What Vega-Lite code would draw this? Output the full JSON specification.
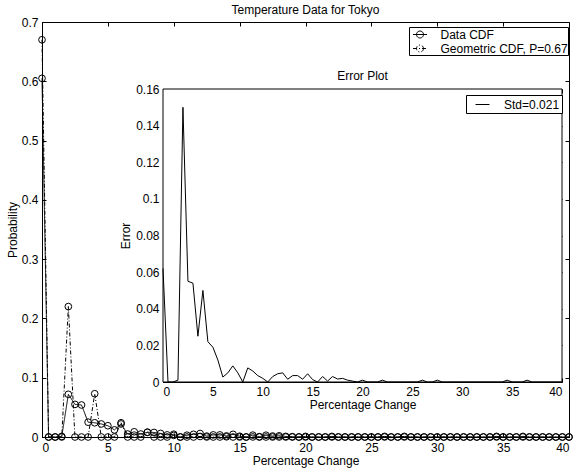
{
  "$schema": "https://vega.github.io/schema/vega-lite/v6.json",
  "width": 527,
  "height": 415,
  "autosize": "none",
  "padding": {"left": 42, "top": 22, "right": 5, "bottom": 32},
  "background": "white",
  "title": {"text": "Temperature Data for Tokyo", "fontSize": 12, "fontWeight": "normal", "font": "Liberation Sans", "color": "black", "offset": -1},
  "datasets": {
    "tokyo": [
      {"x": 0, "data": 0.605, "geom": 0.67, "err": 0.062},
      {"x": 0.5, "data": 0, "geom": 0, "err": 0},
      {"x": 1, "data": 0, "geom": 0, "err": 0},
      {"x": 1.5, "data": 0.001, "geom": 0, "err": 0.001},
      {"x": 2, "data": 0.072, "geom": 0.22, "err": 0.15},
      {"x": 2.5, "data": 0.055, "geom": 0, "err": 0.055},
      {"x": 3, "data": 0.054, "geom": 0, "err": 0.054},
      {"x": 3.5, "data": 0.025, "geom": 0, "err": 0.025},
      {"x": 4, "data": 0.024, "geom": 0.073, "err": 0.05},
      {"x": 4.5, "data": 0.022, "geom": 0, "err": 0.022},
      {"x": 5, "data": 0.019, "geom": 0, "err": 0.019},
      {"x": 5.5, "data": 0.012, "geom": 0, "err": 0.012},
      {"x": 6, "data": 0.022, "geom": 0.024, "err": 0.0027},
      {"x": 6.5, "data": 0.005, "geom": 0, "err": 0.005},
      {"x": 7, "data": 0.0088, "geom": 0, "err": 0.0088},
      {"x": 7.5, "data": 0.005, "geom": 0, "err": 0.005},
      {"x": 8, "data": 0.008, "geom": 0.008, "err": 0},
      {"x": 8.5, "data": 0.0077, "geom": 0, "err": 0.0077},
      {"x": 9, "data": 0.006, "geom": 0, "err": 0.006},
      {"x": 9.5, "data": 0.0035, "geom": 0, "err": 0.0035},
      {"x": 10, "data": 0.0047, "geom": 0.0027, "err": 0.002},
      {"x": 10.5, "data": 0, "geom": 0, "err": 0},
      {"x": 11, "data": 0.003, "geom": 0, "err": 0.003},
      {"x": 11.5, "data": 0.0045, "geom": 0, "err": 0.0045},
      {"x": 12, "data": 0.0059, "geom": 0.0009, "err": 0.005},
      {"x": 12.5, "data": 0.0015, "geom": 0, "err": 0.0015},
      {"x": 13, "data": 0.0035, "geom": 0, "err": 0.0035},
      {"x": 13.5, "data": 0.0035, "geom": 0, "err": 0.0035},
      {"x": 14, "data": 0.0018, "geom": 0.0003, "err": 0.0015},
      {"x": 14.5, "data": 0.0045, "geom": 0, "err": 0.0045},
      {"x": 15, "data": 0.0013, "geom": 0, "err": 0.0013},
      {"x": 15.5, "data": 0, "geom": 0, "err": 0},
      {"x": 16, "data": 0.0031, "geom": 0.0001, "err": 0.003},
      {"x": 16.5, "data": 0.0005, "geom": 0, "err": 0.0005},
      {"x": 17, "data": 0.003, "geom": 0, "err": 0.003},
      {"x": 17.5, "data": 0.0016, "geom": 0, "err": 0.0016},
      {"x": 18, "data": 0.002, "geom": 0, "err": 0.002},
      {"x": 18.5, "data": 0.001, "geom": 0, "err": 0.001},
      {"x": 19, "data": 0.0005, "geom": 0, "err": 0.0005},
      {"x": 19.5, "data": 0, "geom": 0, "err": 0},
      {"x": 20, "data": 0.001, "geom": 0, "err": 0.001},
      {"x": 20.5, "data": 0, "geom": 0, "err": 0},
      {"x": 21, "data": 0, "geom": 0, "err": 0},
      {"x": 21.5, "data": 0, "geom": 0, "err": 0},
      {"x": 22, "data": 0.001, "geom": 0, "err": 0.001},
      {"x": 22.5, "data": 0, "geom": 0, "err": 0},
      {"x": 23, "data": 0, "geom": 0, "err": 0},
      {"x": 23.5, "data": 0, "geom": 0, "err": 0},
      {"x": 24, "data": 0, "geom": 0, "err": 0},
      {"x": 24.5, "data": 0, "geom": 0, "err": 0},
      {"x": 25, "data": 0, "geom": 0, "err": 0},
      {"x": 25.5, "data": 0, "geom": 0, "err": 0},
      {"x": 26, "data": 0.001, "geom": 0, "err": 0.001},
      {"x": 26.5, "data": 0, "geom": 0, "err": 0},
      {"x": 27, "data": 0, "geom": 0, "err": 0},
      {"x": 27.5, "data": 0.001, "geom": 0, "err": 0.001},
      {"x": 28, "data": 0, "geom": 0, "err": 0},
      {"x": 28.5, "data": 0, "geom": 0, "err": 0},
      {"x": 29, "data": 0, "geom": 0, "err": 0},
      {"x": 29.5, "data": 0, "geom": 0, "err": 0},
      {"x": 30, "data": 0, "geom": 0, "err": 0},
      {"x": 30.5, "data": 0, "geom": 0, "err": 0},
      {"x": 31, "data": 0, "geom": 0, "err": 0},
      {"x": 31.5, "data": 0, "geom": 0, "err": 0},
      {"x": 32, "data": 0, "geom": 0, "err": 0},
      {"x": 32.5, "data": 0, "geom": 0, "err": 0},
      {"x": 33, "data": 0, "geom": 0, "err": 0},
      {"x": 33.5, "data": 0, "geom": 0, "err": 0},
      {"x": 34, "data": 0, "geom": 0, "err": 0},
      {"x": 34.5, "data": 0.001, "geom": 0, "err": 0.001},
      {"x": 35, "data": 0, "geom": 0, "err": 0},
      {"x": 35.5, "data": 0, "geom": 0, "err": 0},
      {"x": 36, "data": 0, "geom": 0, "err": 0},
      {"x": 36.5, "data": 0.001, "geom": 0, "err": 0.001},
      {"x": 37, "data": 0, "geom": 0, "err": 0},
      {"x": 37.5, "data": 0, "geom": 0, "err": 0},
      {"x": 38, "data": 0, "geom": 0, "err": 0},
      {"x": 38.5, "data": 0, "geom": 0, "err": 0},
      {"x": 39, "data": 0, "geom": 0, "err": 0},
      {"x": 39.5, "data": 0, "geom": 0, "err": 0},
      {"x": 40, "data": 0, "geom": 0, "err": 0}
    ]
  },
  "layer": [
    {
      "data": {"values": [{}]},
      "mark": {"type": "point", "opacity": 0},
      "encoding": {
        "x": {"datum": 0, "type": "quantitative", "scale": {"domain": [0, 40], "nice": false},
          "axis": {"orient": "top", "values": [0, 5, 10, 15, 20, 25, 30, 35, 40], "labels": false, "domain": false, "title": null, "tickSize": -4}},
        "y": {"datum": 0, "type": "quantitative", "scale": {"domain": [0, 0.7], "nice": false},
          "axis": {"orient": "right", "values": [0, 0.1, 0.2, 0.3, 0.4, 0.5, 0.6, 0.7], "labels": false, "domain": false, "title": null, "tickSize": -4}}
      }
    },
    {
      "data": {"name": "tokyo"},
      "transform": [{"fold": ["data", "geom"], "as": ["series", "p"]}],
      "layer": [
        {
          "mark": {"type": "line", "color": "black", "strokeWidth": 1},
          "encoding": {
            "x": {"field": "x", "type": "quantitative", "scale": {"domain": [0, 40], "nice": false},
              "axis": {"orient": "bottom", "values": [0, 5, 10, 15, 20, 25, 30, 35, 40], "format": "~g", "title": "Percentage Change", "tickSize": -4, "labelPadding": 9, "titlePadding": 2}},
            "y": {"field": "p", "type": "quantitative", "scale": {"domain": [0, 0.7], "nice": false},
              "axis": {"orient": "left", "values": [0, 0.1, 0.2, 0.3, 0.4, 0.5, 0.6, 0.7], "format": "~g", "title": "Probability", "tickSize": -4, "labelPadding": 8, "titlePadding": 2}},
            "strokeDash": {"field": "series", "type": "nominal",
              "scale": {"domain": ["data", "geom"], "range": [[1, 0], [4, 2, 1, 2]]},
              "legend": {"orient": "none", "legendX": 367, "legendY": 5, "title": null,
                "labelExpr": "datum.label == 'data' ? 'Data CDF' : 'Geometric CDF, P=0.67'",
                "symbolType": "M-1,0H1M0.5,0A0.5,0.5,0,1,1,-0.5,0A0.5,0.5,0,1,1,0.5,0",
                "symbolSize": 196, "symbolStrokeWidth": 1, "symbolStrokeColor": "black", "symbolFillColor": "transparent",
                "symbolOffset": 3.5, "labelOffset": 13, "rowPadding": 0, "padding": 0, "strokeColor": "black", "fillColor": "white"}}
          }
        },
        {
          "mark": {"type": "point", "shape": "circle", "filled": false, "color": "black", "size": 45, "strokeWidth": 1, "opacity": 1},
          "encoding": {
            "x": {"field": "x", "type": "quantitative"},
            "y": {"field": "p", "type": "quantitative"},
            "detail": {"field": "series"}
          }
        }
      ]
    },
    {
      "layer": [
        {
          "data": {"values": [{}]},
          "mark": {"type": "rect", "fill": "white", "stroke": "black", "strokeWidth": 1},
          "encoding": {
            "x": {"datum": 0, "type": "quantitative"},
            "x2": {"datum": 40},
            "y": {"datum": 0, "type": "quantitative"},
            "y2": {"datum": 0.16}
          }
        },
        {
          "data": {"name": "tokyo"},
          "mark": {"type": "line", "color": "black", "strokeWidth": 1},
          "encoding": {
            "x": {"field": "x", "type": "quantitative", "scale": {"domain": [0, 40], "range": [121, 520], "nice": false},
              "axis": {"orient": "bottom", "offset": -55, "values": [0, 5, 10, 15, 20, 25, 30, 35, 40], "format": "~g", "title": "Percentage Change", "tickSize": -4, "labelPadding": 8, "titlePadding": 2}},
            "y": {"field": "err", "type": "quantitative", "scale": {"domain": [0, 0.16], "range": [360, 67], "nice": false},
              "axis": {"orient": "left", "offset": -121, "values": [0, 0.02, 0.04, 0.06, 0.08, 0.1, 0.12, 0.14, 0.16], "format": "~g", "title": "Error", "tickSize": -4, "labelPadding": 8, "titlePadding": 3}},
            "color": {"datum": "Std=0.021", "type": "nominal", "scale": {"range": ["black"]},
              "legend": {"orient": "none", "legendX": 424, "legendY": 73, "title": null,
                "symbolType": "M-1,0H1", "symbolSize": 196, "symbolStrokeWidth": 1, "symbolOffset": 7,
                "labelOffset": 14, "padding": 2, "strokeColor": "black", "fillColor": "white"}}
          }
        },
        {
          "data": {"values": [{}]},
          "mark": {"type": "text", "text": "Error Plot", "dy": -13, "baseline": "middle", "align": "center", "fontSize": 12, "font": "Liberation Sans", "color": "black"},
          "encoding": {
            "x": {"datum": 20, "type": "quantitative"},
            "y": {"datum": 0.16, "type": "quantitative"}
          }
        }
      ]
    },
    {
      "data": {"values": [{}]},
      "mark": {"type": "point", "opacity": 0},
      "encoding": {
        "x": {"datum": 0, "type": "quantitative", "scale": {"domain": [0, 40], "range": [121, 520], "nice": false},
          "axis": {"orient": "top", "offset": -67, "values": [0, 5, 10, 15, 20, 25, 30, 35, 40], "labels": false, "domain": false, "title": null, "tickSize": -4}},
        "y": {"datum": 0, "type": "quantitative", "scale": {"domain": [0, 0.16], "range": [360, 67], "nice": false},
          "axis": {"orient": "right", "offset": -7, "values": [0, 0.02, 0.04, 0.06, 0.08, 0.1, 0.12, 0.14, 0.16], "labels": false, "domain": false, "title": null, "tickSize": -4}}
      }
    }
  ],
  "resolve": {
    "scale": {"x": "independent", "y": "independent"},
    "axis": {"x": "independent", "y": "independent"}
  },
  "config": {
    "view": {"stroke": "black", "strokeWidth": 1},
    "axis": {"grid": false, "domainColor": "black", "tickColor": "black", "labelColor": "black", "titleColor": "black",
      "labelFont": "Liberation Sans", "titleFont": "Liberation Sans", "labelFontSize": 12, "titleFontSize": 12,
      "titleFontWeight": "normal", "domainWidth": 1, "tickWidth": 1},
    "legend": {"labelFont": "Liberation Sans", "labelFontSize": 12, "labelColor": "black"}
  }
}
